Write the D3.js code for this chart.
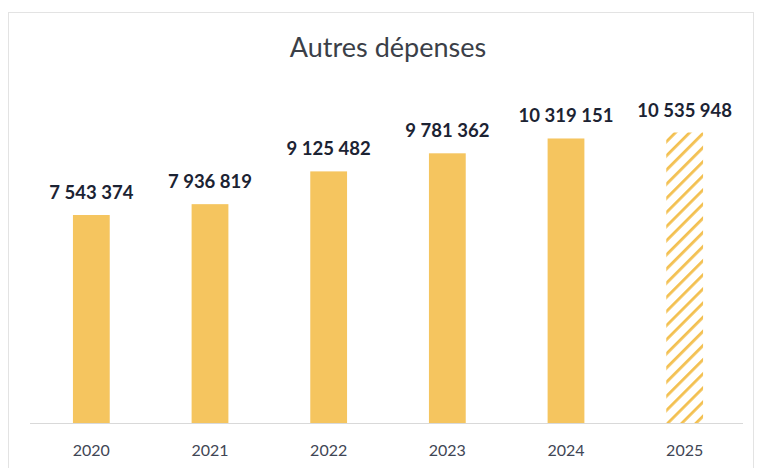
<!DOCTYPE html>
<html>
<head>
<meta charset="utf-8">
<script src="https://cdn.jsdelivr.net/npm/d3@7"></script>
<style>
  body { margin: 0; background: #fff; }
  text { font-family: Lato, "Open Sans", sans-serif; }
</style>
</head>
<body>
<svg id="chart" width="757" height="468"></svg>
<script>
// Data
const years = ['2020', '2021', '2022', '2023', '2024', '2025'];
const values = [7543374, 7936819, 9125482, 9781362, 10319151, 10535948];
const forecast = ['2025'];

const width = 757;
const height = 468;
const margin = { left: 32, right: 13, baseline: 423 };

const svg = d3.select('#chart');

// Frame
svg.append('rect')
  .attr('x', 8.5)
  .attr('y', 12.5)
  .attr('width', width - 12)
  .attr('height', height - 6)
  .attr('fill', 'none')
  .attr('stroke', '#e3e3e3');

// Hatch pattern for the projected year
const defs = svg.append('defs');
defs.append('pattern')
  .attr('id', 'hatch')
  .attr('patternUnits', 'userSpaceOnUse')
  .attr('width', 10)
  .attr('height', 10)
  .attr('patternTransform', 'rotate(45)')
  .append('rect')
    .attr('x', 0)
    .attr('y', 0)
    .attr('width', 2.8)
    .attr('height', 10)
    .attr('fill', '#f3c050');

const x = d3.scaleBand()
  .domain(years)
  .range([margin.left, width - margin.right])
  .paddingInner(0.69)
  .paddingOuter(0.345);

const y = d3.scaleLinear()
  .domain([0, 10535948])
  .range([margin.baseline, 132.5]);

const data = years.map((year, i) => ({ year, value: values[i] }));

// Bars
svg.append('g')
  .selectAll('rect')
  .data(data)
  .enter()
    .append('rect')
    .attr('x', d => x(d.year))
    .attr('y', d => y(d.value))
    .attr('width', x.bandwidth())
    .attr('height', d => y(0) - y(d.value))
    .attr('fill', d => forecast.includes(d.year) ? 'url(#hatch)' : '#f5c55f');

// Baseline axis
const axis = svg.append('g')
  .attr('transform', `translate(0,${margin.baseline})`)
  .call(d3.axisBottom(x).tickSize(0).tickPadding(22));

axis.select('.domain')
  .attr('d', `M30,0.5H743`)
  .attr('stroke', '#d9d9d9');

axis.selectAll('text')
  .attr('font-size', 16)
  .attr('font-family', 'Lato, sans-serif')
  .attr('fill', '#3f4655');

// Value labels
const fmt = v => d3.format(',')(v).replace(/,/g, ' ');

svg.append('g')
  .selectAll('text')
  .data(data)
  .enter()
    .append('text')
    .attr('x', d => x(d.year) + x.bandwidth() / 2)
    .attr('y', d => y(d.value) - 16)
    .attr('text-anchor', 'middle')
    .attr('font-size', 18.5)
    .attr('font-weight', 700)
    .attr('fill', '#1c2333')
    .text(d => fmt(d.value));

// Title
svg.append('text')
  .attr('x', 388)
  .attr('y', 57)
  .attr('text-anchor', 'middle')
  .attr('font-size', 27)
  .attr('fill', '#3b3f48')
  .text('Autres dépenses');
</script>
</body>
</html>
